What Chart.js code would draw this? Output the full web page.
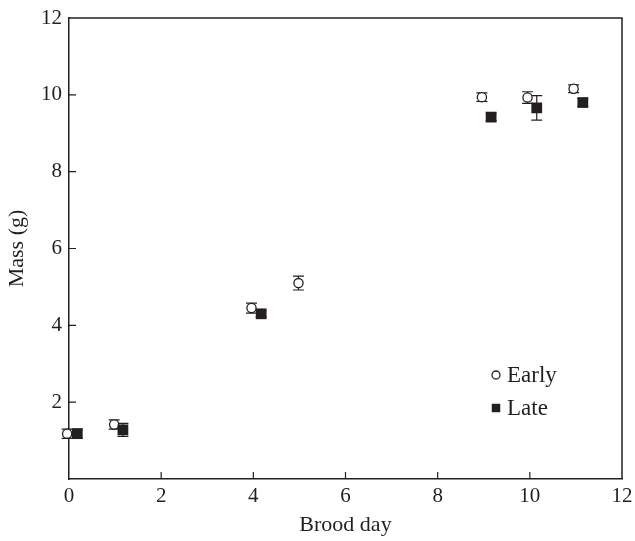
<!DOCTYPE html>
<html>
<head>
<meta charset="utf-8">
<script src="https://cdn.jsdelivr.net/npm/chart.js@4.4.1/dist/chart.umd.min.js"></script>
<style>
  body { margin: 0; background: #fff; }
  #wrap { width: 635px; height: 541px; }
</style>
</head>
<body>
<div id="wrap"><canvas id="massChart" width="635" height="541"></canvas></div>
<script>
// brood day / mass (g) with standard errors
const earlyDay  = [-0.04, 0.98, 3.96, 4.98, 8.96, 9.95, 10.95];
const earlyMass = [1.18, 1.42, 4.45, 5.10, 9.94, 9.93, 10.16];
const earlySE   = [0.12, 0.12, 0.13, 0.18, 0.11, 0.15, 0.10];

const lateDay  = [0.18, 1.17, 4.17, 9.16, 10.15, 11.15];
const lateMass = [1.18, 1.28, 4.30, 9.42, 9.66, 9.80];
const lateSE   = [0.12, 0.17, 0.08, 0.10, 0.32, 0.10];

const axisTicks = [0, 2, 4, 6, 8, 10, 12];

const ink = '#231f20';
const serif = "'Liberation Serif', 'DejaVu Serif', serif";

const toPoints = (xs, ys) => xs.map((x, i) => ({ x: x, y: ys[i] }));

const data = {
  datasets: [
    {
      label: 'Late',
      data: toPoints(lateDay, lateMass),
      se: lateSE,
      pointStyle: 'rect',
      pointRadius: 7.6,
      pointHoverRadius: 7.6,
      backgroundColor: ink,
      borderColor: ink,
      borderWidth: 0,
      clip: false
    },
    {
      label: 'Early',
      data: toPoints(earlyDay, earlyMass),
      se: earlySE,
      pointStyle: 'circle',
      pointRadius: 4.6,
      pointHoverRadius: 4.6,
      backgroundColor: '#fff',
      borderColor: ink,
      borderWidth: 1.3,
      clip: false
    }
  ]
};

// vertical SE bars with caps, drawn under the markers
const errorBars = {
  id: 'errorBars',
  beforeDatasetsDraw(chart) {
    const { ctx, scales: { x, y } } = chart;
    ctx.save();
    ctx.strokeStyle = ink;
    ctx.lineWidth = 1.2;
    chart.data.datasets.forEach(ds => {
      ds.data.forEach((p, i) => {
        const px = x.getPixelForValue(p.x);
        const top = y.getPixelForValue(p.y + ds.se[i]);
        const bot = y.getPixelForValue(p.y - ds.se[i]);
        ctx.beginPath();
        ctx.moveTo(px, top); ctx.lineTo(px, bot);
        ctx.moveTo(px - 5.5, top); ctx.lineTo(px + 5.5, top);
        ctx.moveTo(px - 5.5, bot); ctx.lineTo(px + 5.5, bot);
        ctx.stroke();
      });
    });
    ctx.restore();
  }
};

// closed frame plus inward ticks on the left and bottom axes
const frame = {
  id: 'frame',
  afterDraw(chart) {
    const { ctx, chartArea: a, scales: { x, y } } = chart;
    ctx.save();
    ctx.strokeStyle = ink;
    ctx.lineWidth = 1.5;
    ctx.beginPath();
    ctx.moveTo(a.left, a.top); ctx.lineTo(a.right, a.top); ctx.lineTo(a.right, a.bottom);
    ctx.stroke();
    ctx.lineWidth = 1.2;
    ctx.beginPath();
    axisTicks.slice(1, -1).forEach(v => {
      const px = x.getPixelForValue(v);
      ctx.moveTo(px, a.bottom); ctx.lineTo(px, a.bottom - 7);
      const py = y.getPixelForValue(v);
      ctx.moveTo(a.left, py); ctx.lineTo(a.left + 7, py);
    });
    ctx.stroke();
    ctx.restore();
  }
};

// legend sitting inside the plot
const innerLegend = {
  id: 'innerLegend',
  afterDraw(chart) {
    const { ctx } = chart;
    const rows = [
      { ds: chart.data.datasets[1], y: 375 },
      { ds: chart.data.datasets[0], y: 408 }
    ];
    ctx.save();
    ctx.font = '23px ' + serif;
    ctx.textBaseline = 'middle';
    rows.forEach(r => {
      const style = r.ds.pointStyle === 'rect'
        ? { pointStyle: 'rect', radius: 6, borderWidth: 0 }
        : { pointStyle: 'circle', radius: 4, borderWidth: 1.3 };
      ctx.fillStyle = r.ds.backgroundColor;
      ctx.strokeStyle = r.ds.borderColor;
      ctx.lineWidth = style.borderWidth;
      Chart.helpers.drawPoint(ctx, style, 496, r.y);
      ctx.fillStyle = ink;
      ctx.fillText(r.ds.label, 507, r.y + 1);
    });
    ctx.restore();
  }
};

const tickFont = { family: serif, size: 21 };
const titleFont = { family: serif, size: 22 };

const config = {
  type: 'scatter',
  data,
  options: {
    responsive: false,
    animation: false,
    layout: { padding: { top: 18, right: 13, left: 0, bottom: 0 } },
    plugins: {
      legend: { display: false },
      tooltip: { enabled: false }
    },
    scales: {
      x: {
        type: 'linear',
        min: 0,
        max: 12,
        afterBuildTicks: s => { s.ticks = axisTicks.map(v => ({ value: v })); },
        afterFit: s => { s.height = 62; s.paddingLeft = 0; s.paddingRight = 0; },
        ticks: { font: tickFont, color: ink, padding: 5, maxRotation: 0 },
        grid: { drawOnChartArea: false, drawTicks: false },
        border: { color: ink, width: 1.5 },
        title: { display: true, text: 'Brood day', font: titleFont, color: ink, padding: { top: 4, bottom: 3 } }
      },
      y: {
        min: 0,
        max: 12,
        afterBuildTicks: s => { s.ticks = axisTicks.map(v => ({ value: v })); },
        afterFit: s => { s.width = 69; s.paddingTop = 0; s.paddingBottom = 0; },
        ticks: {
          font: tickFont, color: ink, padding: 7,
          callback: v => (v === 0 ? null : v)
        },
        grid: { drawOnChartArea: false, drawTicks: false },
        border: { color: ink, width: 1.5 },
        title: { display: true, text: 'Mass (g)', font: titleFont, color: ink, padding: { top: 4, bottom: 4 } }
      }
    }
  },
  plugins: [errorBars, frame, innerLegend]
};

const massChart = new Chart(document.getElementById('massChart'), config);
</script>
</body>
</html>
